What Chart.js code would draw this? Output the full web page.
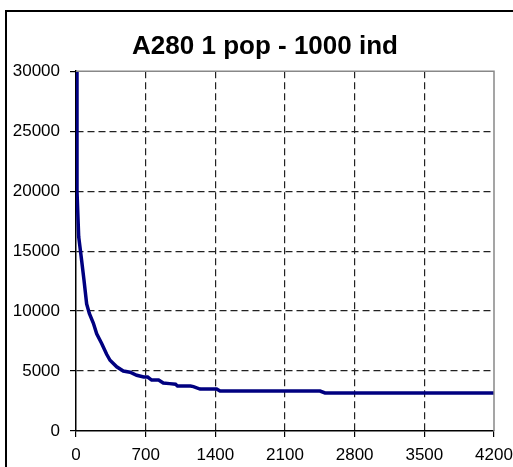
<!DOCTYPE html>
<html>
<head>
<meta charset="utf-8">
<script src="https://cdn.jsdelivr.net/npm/chart.js@4/dist/chart.umd.min.js"></script>
<style>
    html, body { margin: 0; padding: 0; background: #fff; }
    #wrap { position: relative; width: 513px; height: 467px; }
</style>
</head>
<body>
<div id="wrap"><canvas id="chart" width="513" height="467"></canvas></div>
<script>
var titleText = "A280 1 pop - 1000 ind";
// generation / best tour length
var generations = [0, 10, 27, 57, 80, 107, 134, 174, 208, 258, 308, 342, 409, 475, 543, 610, 680, 720, 760, 830, 877, 940, 1000, 1020, 1150, 1180, 1246, 1413, 1447, 2452, 2502, 4200];
var bestLength = [30000, 20000, 16200, 14200, 12600, 10600, 9800, 9000, 8100, 7300, 6400, 5900, 5350, 5000, 4900, 4650, 4500, 4500, 4250, 4250, 4000, 3950, 3900, 3750, 3750, 3700, 3500, 3500, 3330, 3330, 3170, 3170];
var xTicks = [0, 700, 1400, 2100, 2800, 3500, 4200];
var yTicks = [0, 5000, 10000, 15000, 20000, 25000, 30000];

var points = [];
generations.forEach(function(g, i) {
    points.push({x: g, y: bestLength[i]});
});

// outer frame, grey plot-area edges on top/right, title centred a bit right
var framePlugin = {
    id: 'frame',
    afterLayout: function(chart) {
        var t = chart.titleBlock;
        if (t) {
            t.left = 36;
            t.right = 494;
            t.width = t.right - t.left;
        }
    },
    beforeDraw: function(chart) {
        var ctx = chart.ctx;
        ctx.save();
        ctx.strokeStyle = '#000';
        ctx.lineWidth = 2;
        ctx.strokeRect(6, 11, 600, 600);
        ctx.restore();
    },
    afterDatasetsDraw: function(chart) {
        var a = chart.chartArea;
        var ctx = chart.ctx;
        ctx.save();
        ctx.strokeStyle = '#888';
        ctx.lineWidth = 1.5;
        ctx.beginPath();
        ctx.moveTo(a.left, a.top);
        ctx.lineTo(a.right, a.top);
        ctx.lineTo(a.right, a.bottom);
        ctx.stroke();
        ctx.restore();
    }
};

var tickFont = {family: 'Liberation Sans, Arial, sans-serif', size: 17};

function plain(v) { return String(v); }

new Chart(document.getElementById('chart'), {
    type: 'line',
    data: {
        datasets: [{
            data: points,
            borderColor: '#000080',
            borderWidth: 3.5,
            pointRadius: 0,
            tension: 0,
            fill: false,
        }],
    },
    options: {
        responsive: false,
        animation: false,
        layout: { padding: {left: 0, right: 19, top: 0, bottom: 0} },
        plugins: {
            legend: { display: false },
            tooltip: { enabled: false },
            title: {
                display: true,
                text: titleText,
                color: '#000',
                font: {family: 'Liberation Sans, Arial, sans-serif', size: 26, weight: 'bold'},
                padding: {top: 31, bottom: 9},
            },
        },
        scales: {
            x: {
                type: 'linear',
                min: 0,
                max: 4200,
                afterBuildTicks: function(axis) {
                    axis.ticks = xTicks.map(function(v) { return {value: v}; });
                },
                afterFit: function(axis) {
                    axis.height = 36;
                    axis.paddingLeft = 0;
                    axis.paddingRight = 0;
                },
                ticks: { color: '#000', font: tickFont, padding: 8, maxRotation: 0, callback: plain },
                grid: {
                    color: function(c) { return c.tick && (c.tick.value === 0 || c.tick.value === 4200) ? 'rgba(0,0,0,0)' : '#222'; },
                    lineWidth: 1.2,
                    tickLength: 6,
                    tickColor: '#000',
                    tickBorderDash: [],
                },
                border: { display: true, color: '#000', width: 1.5, dash: [7, 4] },
            },
            y: {
                min: 0,
                max: 30000,
                afterBuildTicks: function(axis) {
                    axis.ticks = yTicks.map(function(v) { return {value: v}; });
                },
                afterFit: function(axis) {
                    axis.width = 76;
                    axis.paddingTop = 0;
                    axis.paddingBottom = 0;
                },
                ticks: { color: '#000', font: tickFont, padding: 10, callback: plain },
                grid: {
                    color: function(c) { return c.tick && (c.tick.value === 0 || c.tick.value === 30000) ? 'rgba(0,0,0,0)' : '#222'; },
                    lineWidth: 1.2,
                    tickLength: 6,
                    tickColor: '#000',
                    tickBorderDash: [],
                },
                border: { display: true, color: '#000', width: 1.5, dash: [7, 4] },
            },
        },
    },
    plugins: [framePlugin],
});
</script>
</body>
</html>
